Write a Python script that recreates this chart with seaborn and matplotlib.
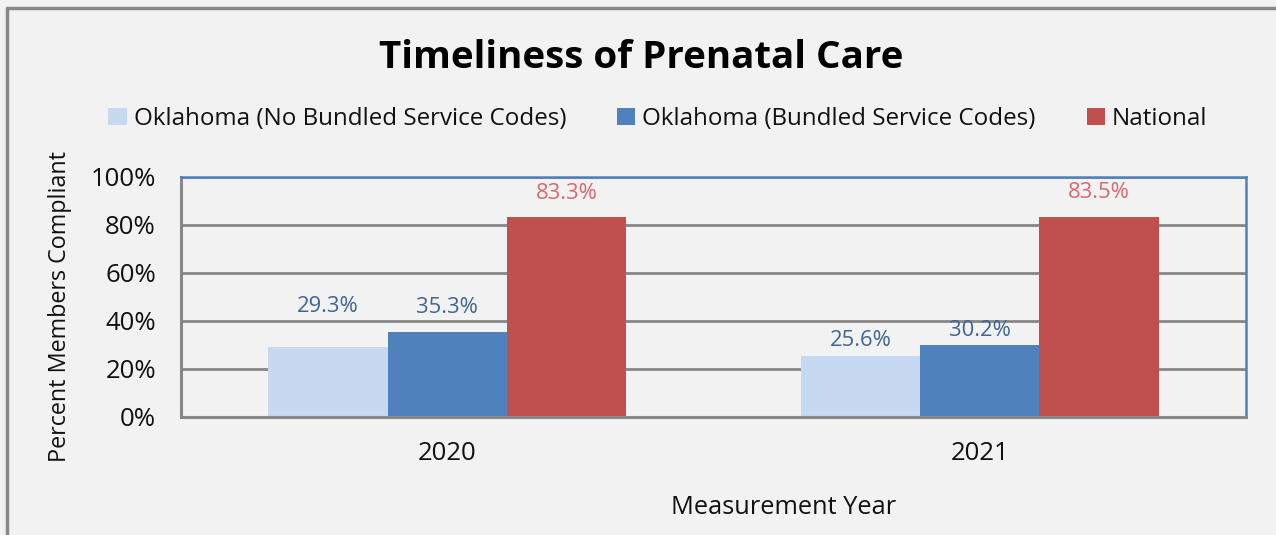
import matplotlib
matplotlib.use("Agg")
import matplotlib.pyplot as plt
from matplotlib.lines import Line2D
from matplotlib.patches import Patch
import seaborn as sns
import pandas as pd

years = ["2020", "2021"]
series = ["Oklahoma (No Bundled Service Codes)",
          "Oklahoma (Bundled Service Codes)",
          "National"]
no_bundled = [29.3, 25.6]
bundled = [35.3, 30.2]
national = [83.3, 83.5]
y_ticks = [0, 20, 40, 60, 80, 100]

bar_colors = ["#C6D9F1", "#4F81BD", "#C0504D"]
label_colors = ["#3F6594", "#3F6594", "#D9696A"]

BG = "#F2F2F2"
sns.set_theme(style="white")
plt.rcParams["font.family"] = ["Open Sans", "DejaVu Sans"]

df = pd.DataFrame({
    "Year": years * 3,
    "Series": [s for s in series for _ in years],
    "Value": no_bundled + bundled + national,
})

fig = plt.figure(figsize=(12.76, 5.35), dpi=100, facecolor=BG)
ax = fig.add_axes([181 / 1276, 118 / 535, 1065 / 1276, 240 / 535])
ax.set_facecolor(BG)

sns.barplot(data=df, x="Year", y="Value", hue="Series", hue_order=series,
            palette=bar_colors, width=0.672, gap=0, saturation=1,
            edgecolor="none", ax=ax, legend=False)

ax.set_ylim(0, 100)
ax.set_yticks(y_ticks)
ax.set_yticklabels([f"{t}%" for t in y_ticks], fontsize=18.5, color="#111111")
ax.tick_params(axis="x", labelsize=18.5, colors="#111111", pad=17, length=0)
ax.tick_params(axis="y", pad=18, length=0)
ax.yaxis.grid(True, color="#878787", linewidth=2)
ax.set_axisbelow(True)

for side in ("left", "bottom"):
    ax.spines[side].set_color("#878787")
    ax.spines[side].set_linewidth(2.2)
for side in ("top", "right"):
    ax.spines[side].set_color("#4F81BD")
    ax.spines[side].set_linewidth(1.8)

ax.set_xlabel("")
ax.set_ylabel("Percent Members Compliant", fontsize=16.8, color="#111111")
ax.yaxis.set_label_coords(-0.1023, 0.4625)

# value labels above each bar, offsets in points
offsets = [[29, 11], [18, 10], [17, 17]]
for i, cont in enumerate(ax.containers):
    for j, bar in enumerate(cont):
        val = bar.get_height()
        ax.annotate(f"{val:.1f}%",
                    (bar.get_x() + bar.get_width() / 2, val),
                    xytext=(0, offsets[i][j]), textcoords="offset points",
                    ha="center", va="center", fontsize=15.8,
                    color=label_colors[i], zorder=5)

fig.text(784 / 1276, 1 - 507 / 535, "Measurement Year", ha="center",
         va="center", fontsize=18.3, color="#111111")
fig.text(641 / 1276, 1 - 58 / 535, "Timeliness of Prenatal Care",
         ha="center", va="center", fontsize=27.7, fontweight="bold",
         color="#000000")

handles = [Patch(facecolor=c, edgecolor="none") for c in bar_colors]
fig.legend(handles, series, loc="center", bbox_to_anchor=(658 / 1276, 1 - 119 / 535),
           ncol=3, frameon=False, fontsize=17.4, handlelength=0.75,
           handleheight=0.75, handletextpad=0.3, columnspacing=2.1,
           labelcolor="#111111")

# outer chart frame
fig.add_artist(Line2D([7 / 1276, 7 / 1276], [0, 1 - 8 / 535],
                      transform=fig.transFigure, color="#888888", linewidth=2.5))
fig.add_artist(Line2D([7 / 1276, 1], [1 - 8 / 535, 1 - 8 / 535],
                      transform=fig.transFigure, color="#888888", linewidth=2.5))

fig.savefig("out.png", dpi=100, facecolor=BG)
